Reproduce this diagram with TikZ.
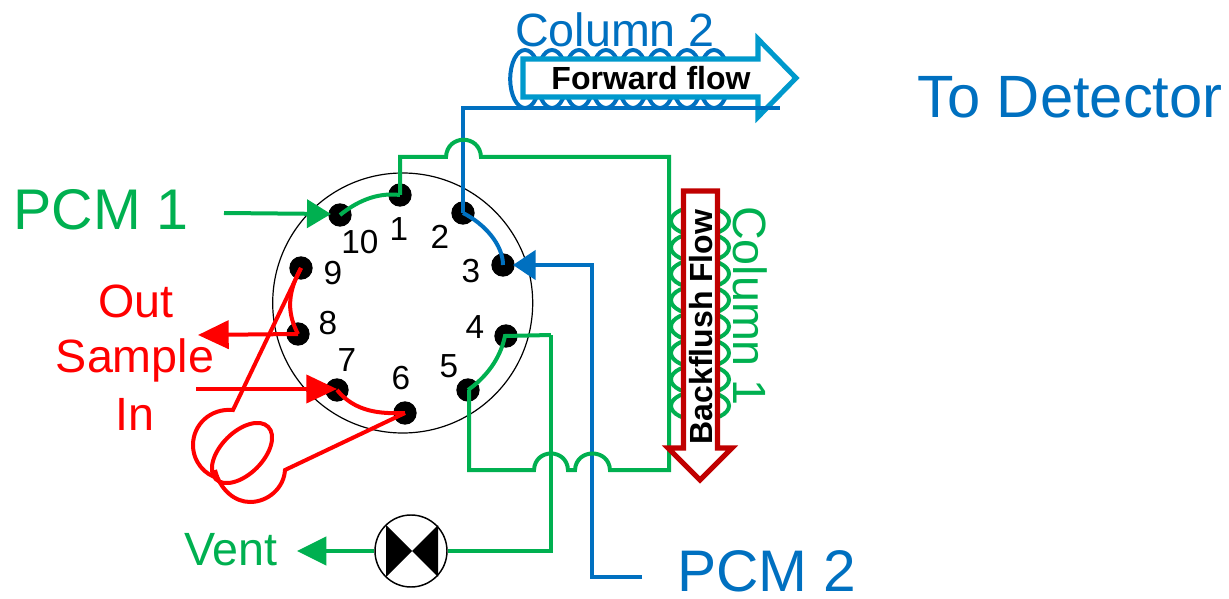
\documentclass[tikz,border=0pt]{standalone}
\usepackage{fontspec}
\setmainfont{Liberation Sans}
\usetikzlibrary{arrows.meta}
\definecolor{cgreen}{HTML}{00B050}
\definecolor{cblue}{HTML}{0070C0}
\definecolor{cred}{HTML}{FF0000}
\definecolor{cdark}{HTML}{C00000}
\definecolor{clight}{HTML}{0099CC}
\tikzset{
  port/.style={circle,fill=black,inner sep=0pt,minimum size=17.5pt},
  num/.style={font=\fontsize{25}{25}\selectfont,inner sep=0pt},
  lab/.style={font=\fontsize{#1}{#1}\selectfont,inner sep=0pt},
  pipe/.style={line width=3pt,line join=miter},
  gpipe/.style={pipe,draw=cgreen},
  bpipe/.style={pipe,draw=cblue},
  rpipe/.style={pipe,draw=cred},
  ghead/.style={-{Triangle[length=22pt,width=21pt,fill=cgreen]}},
  ghead short/.style={-{Triangle[length=18pt,width=21pt,fill=cgreen]}},
  bhead/.style={-{Triangle[length=17pt,width=22pt,fill=cblue]}},
  rhead/.style={-{Triangle[length=23pt,width=21pt,fill=cred]}},
  flowarrow/.style={fill=white,line width=3.8pt,miter limit=10},
  flowtext/.style={font=\bfseries\fontsize{24}{24}\selectfont,inner sep=0pt},
}
\begin{document}
\begin{tikzpicture}[x=0.75pt,y=-0.75pt]
\useasboundingbox (0,0) rectangle (1229,599);
% rotor
\node[circle,draw=black,line width=0.9pt,minimum size=195pt,inner sep=0pt] (rotor) at (402.7,303) {};
% ports
\node[port] (p1) at (400,195) {};
\node[port] (p2) at (463,213) {};
\node[port] (p3) at (503,265) {};
\node[port] (p4) at (506,336) {};
\node[port] (p5) at (468,390) {};
\node[port] (p6) at (405,413) {};
\node[port] (p7) at (337,390) {};
\node[port] (p8) at (298,334) {};
\node[port] (p9) at (301,268) {};
\node[port] (p10) at (340,215) {};
% numbers
\node[num] (n1) at (399,229) {1};
\node[num] (n2) at (440,237) {2};
\node[num] (n3) at (471,271) {3};
\node[num] (n4) at (475,327) {4};
\node[num] (n5) at (449,366) {5};
\node[num] (n6) at (401,378) {6};
\node[num] (n7) at (347,360) {7};
\node[num] (n8) at (328,323) {8};
\node[num] (n9) at (333,273) {9};
\node[num] (n10) at (360,242) {10};
% coils
\foreach \i in {0,...,7}{
  \draw[cblue,line width=3pt] (525+27*\i,79) ellipse [x radius=14.8,y radius=29];
  \draw[cgreen,line width=3pt] (700,221+26.4*\i) ellipse [x radius=29,y radius=14.5];
}
% blue
\coordinate (b1) at (463,108);
\coordinate (b2) at (780,108);
\coordinate (b3) at (592,265);
\coordinate (b4) at (592,577);
\coordinate (b5) at (642,577);
% forward arrow
\draw[clight,flowarrow] (523,59) -- (758,59) -- (758,39) -- (796,78) -- (758,117) -- (758,97) -- (523,97) -- cycle;
\node[flowtext] (ff) at (651,78) {Forward flow};
\draw[bpipe] (p2.center) -- (b1) -- (b2);
\draw[bpipe] (p2.center) .. controls (485,224) and (503,245) .. (p3.center);
\draw[bpipe,bhead] (b5) -- (b4) -- (b3) -- (513,265);
% green top
\coordinate (g1) at (400,157);
\coordinate (g2) at (446,157);
\coordinate (g3) at (481,157);
\coordinate (g4) at (669,157);
\coordinate (g5) at (669,470);
\coordinate (g6) at (610,470);
\coordinate (g7) at (575,470);
\coordinate (g8) at (568,470);
\coordinate (g9) at (534,470);
\coordinate (g10) at (469,470);
\coordinate (g11) at (469,390);
\coordinate (g12) at (551,335);
\draw[gpipe] (p1.center) -- (g1) -- (g2) .. controls (447,134) and (480,134) .. (g3) -- (g4) -- (g5) -- (g6)
  .. controls (609,448) and (576,448) .. (g7) -- (g8) .. controls (567,448) and (535,448) .. (g9) -- (g10) -- (g11) -- (p5.center);
\draw[gpipe] (p10.center) .. controls (355,203) and (375,192) .. (p1.center);
\draw[gpipe] (p5.center) .. controls (485,378) and (500,360) .. (505,336) -- (g12);
% valve
\node[circle,draw=black,fill=white,line width=1.1pt,minimum size=54pt,inner sep=0pt] (valve) at (411,551) {};
\fill[black] (386,525) -- (412,551) -- (386,577) -- cycle;
\fill[black] (438,525) -- (412,551) -- (438,577) -- cycle;
\coordinate (vj) at (551,551);
\draw[gpipe] (g12) -- (vj) -- (valve.east);
\coordinate (ve) at (297,551);
\draw[gpipe,ghead] (valve.west) -- (ve);
% PCM1
\coordinate (pa) at (224,213);
\draw[gpipe,ghead short] (pa) -- (331,214);
% backflush arrow
\draw[cdark,flowarrow] (683.5,191) -- (717.5,191) -- (717.5,448) -- (732,448) -- (700,480) -- (668,448) -- (683.5,448) -- cycle;
\node[flowtext,rotate=90] (bf) at (701,327) {Backflush Flow};
% red
\coordinate (so) at (198,335);
\coordinate (si) at (196,389);
\draw[rpipe] (p9.center) .. controls (286,295) and (288,315) .. (p8.center);
\draw[rpipe,rhead] (p8.center) -- (so);
\draw[rpipe,rhead] (si) -- (337,389);
\draw[rpipe] (p7.center) .. controls (355,412) and (380,414) .. (p6.center);
\coordinate (c1) at (233,410);
\coordinate (c2) at (285,470);
\draw[rpipe] (p9.center) -- (c1) .. controls (210,408) and (193,425) .. (193,445) .. controls (193,462) and (205,475) .. (218,478);
\draw[rpipe] (p6.center) -- (c2) .. controls (284,488) and (268,502) .. (250,502) .. controls (235,502) and (220,490) .. (215,470);
\draw[rpipe,rotate around={45:(242,453)}] (242,453) ellipse [x radius=37,y radius=21];
% labels
\node[lab=44.8,text=cblue] (td) at (1070,97) {To Detector};
\node[lab=35,text=cblue] (c2l) at (615,30) {Column 2};
\node[lab=35,text=cgreen,rotate=-90] (c1l) at (750,306) {Column 1};
\node[lab=43,text=cgreen] (pcm1) at (101,210) {PCM 1};
\node[lab=44,text=cblue] (pcm2) at (767,571) {PCM 2};
\node[lab=35,text=cred] (out) at (136,301) {Out};
\node[lab=35,text=cred] (sample) at (135,360) {Sample};
\node[lab=35,text=cred] (in) at (135,414) {In};
\node[lab=35,text=cgreen] (vent) at (231,550) {Vent};
\end{tikzpicture}
\end{document}
